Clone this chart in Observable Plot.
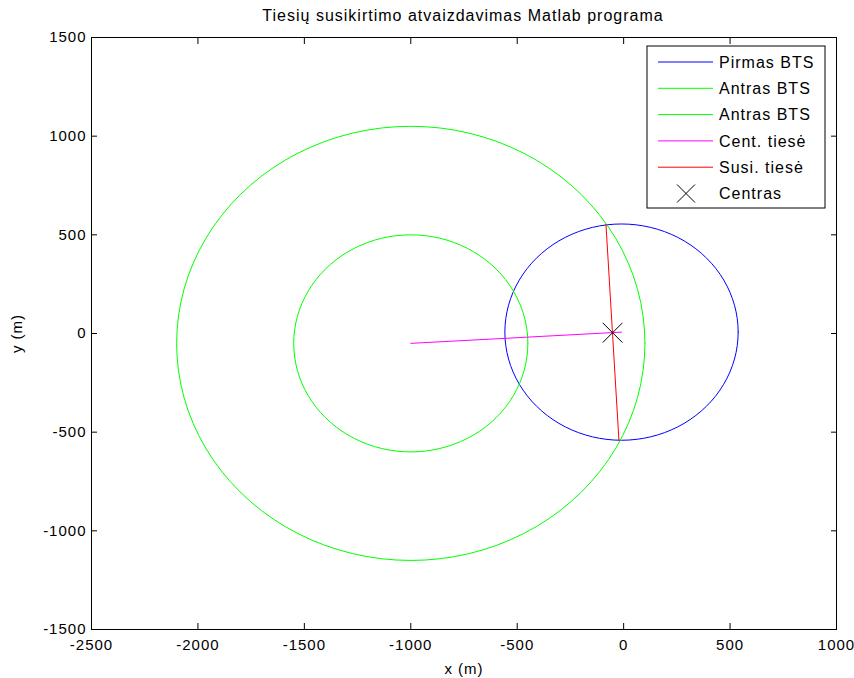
<!DOCTYPE html>
<html>
<head>
<meta charset="utf-8">
<script src="https://cdn.jsdelivr.net/npm/d3@7"></script>
<script src="https://cdn.jsdelivr.net/npm/@observablehq/plot@0.6"></script>
<style>
  html, body { margin: 0; padding: 0; background: #fff; }
  #chart { position: relative; width: 854px; height: 678px; }
  #chart svg { font-family: "Liberation Sans", Arial, sans-serif; }
</style>
</head>
<body>
<div id="chart"></div>
<script>
// ---- data ----
const titleText = "Tiesių susikirtimo atvaizdavimas Matlab programa";
const xTicks = [-2500, -2000, -1500, -1000, -500, 0, 500, 1000];
const yTicks = [-1500, -1000, -500, 0, 500, 1000, 1500];
// circles: name, center x, center y, radius
const circleNames = ["Pirmas BTS", "Antras BTS", "Antras BTS 2"];
const circleCx = [-10, -1000, -1000];
const circleCy = [7, -50, -50];
const circleR = [548, 550, 1100];
const circleColors = ["#0000ff", "#00ff00", "#00ff00"];
// center line (magenta)
const centLineX = [-1000, -10];
const centLineY = [-50, 7];
// intersection line (red)
const susiLineX = [-83, -22];
const susiLineY = [553, -543];
// center marker
const centrasX = [-52];
const centrasY = [4];
const legendLabels = ["Pirmas BTS", "Antras BTS", "Antras BTS", "Cent. tiesė", "Susi. tiesė", "Centras"];
const legendColors = ["#0000ff", "#00ff00", "#00ff00", "#ff00ff", "#ff0000", "#000000"];

// ---- build outlines ----
const N = 100;
const circlePts = [];
circleNames.forEach((name, i) => {
  for (let k = 0; k <= N; k++) {
    const t = 2 * Math.PI * k / N;
    circlePts.push({name, x: circleCx[i] + circleR[i] * Math.cos(t), y: circleCy[i] + circleR[i] * Math.sin(t), color: circleColors[i]});
  }
});
const centLine = centLineX.map((x, i) => ({x, y: centLineY[i]}));
const susiLine = susiLineX.map((x, i) => ({x, y: susiLineY[i]}));
const centras = centrasX.map((x, i) => ({x, y: centrasY[i]}));

const W = 854, H = 678;
const fs = 15;
const plot = Plot.plot({
  width: W,
  height: H,
  marginLeft: 91,
  marginRight: 18,
  marginTop: 37,
  marginBottom: 49,
  style: {fontFamily: '"Liberation Sans", Arial, sans-serif', fontSize: fs + "px", background: "#fff", color: "#000", letterSpacing: "1px"},
  x: {domain: [-2500, 1000], ticks: xTicks},
  y: {domain: [-1500, 1500], ticks: yTicks},
  marks: [
    Plot.frame({stroke: "#000", strokeWidth: 1}),
    // tick labels
    Plot.axisX({anchor: "bottom", ticks: xTicks, tickSize: 0, tickPadding: 10, tickFormat: d => String(d), label: "x (m)", labelAnchor: "center", labelArrow: "none", labelOffset: 44, fontSize: fs}),
    Plot.axisY({anchor: "left", ticks: yTicks, tickSize: 0, tickPadding: 5, tickFormat: d => String(d), label: "y (m)", labelAnchor: "center", labelArrow: "none", labelOffset: 80, fontSize: fs}),
    // inward tick marks on all four sides
    Plot.axisX({anchor: "bottom", ticks: xTicks, tickSize: -6, text: null, label: null}),
    Plot.axisX({anchor: "top", ticks: xTicks, tickSize: -6, text: null, label: null}),
    Plot.axisY({anchor: "left", ticks: yTicks, tickSize: -6, text: null, label: null}),
    Plot.axisY({anchor: "right", ticks: yTicks, tickSize: -6, text: null, label: null}),
    Plot.line(circlePts, {x: "x", y: "y", z: "name", stroke: "color", strokeWidth: 1}),
    Plot.line(centLine, {x: "x", y: "y", stroke: "#ff00ff", strokeWidth: 1}),
    Plot.line(susiLine, {x: "x", y: "y", stroke: "#ff0000", strokeWidth: 1}),
    Plot.dot(centras, {x: "x", y: "y", symbol: "times", r: 9, stroke: "#000", strokeWidth: 1}),
  ]
});
document.getElementById("chart").appendChild(plot);

// title
const svg = d3.select(plot);
svg.append("text")
  .attr("x", 463).attr("y", 21)
  .attr("text-anchor", "middle")
  .attr("font-size", 16)
  .attr("letter-spacing", "1px")
  .attr("fill", "#000")
  .text(titleText);

// legend
const lg = svg.append("g").attr("transform", "translate(647,46)");
lg.append("rect").attr("width", 178).attr("height", 162).attr("fill", "#fff").attr("stroke", "#000");
legendLabels.forEach((lab, i) => {
  const cy = 16 + i * 26.3;
  if (i < 5) {
    lg.append("line").attr("x1", 11).attr("x2", 66).attr("y1", cy).attr("y2", cy).attr("stroke", legendColors[i]).attr("stroke-width", 1);
  } else {
    const s = 9;
    lg.append("path").attr("d", `M${39 - s},${cy - s}L${39 + s},${cy + s}M${39 - s},${cy + s}L${39 + s},${cy - s}`).attr("stroke", "#000").attr("fill", "none");
  }
  lg.append("text").attr("x", 72).attr("y", cy).attr("dy", "0.35em")
    .attr("text-anchor", "start").attr("font-size", 16).attr("letter-spacing", "1px")
    .attr("fill", "#000").text(lab);
});
</script>
</body>
</html>
